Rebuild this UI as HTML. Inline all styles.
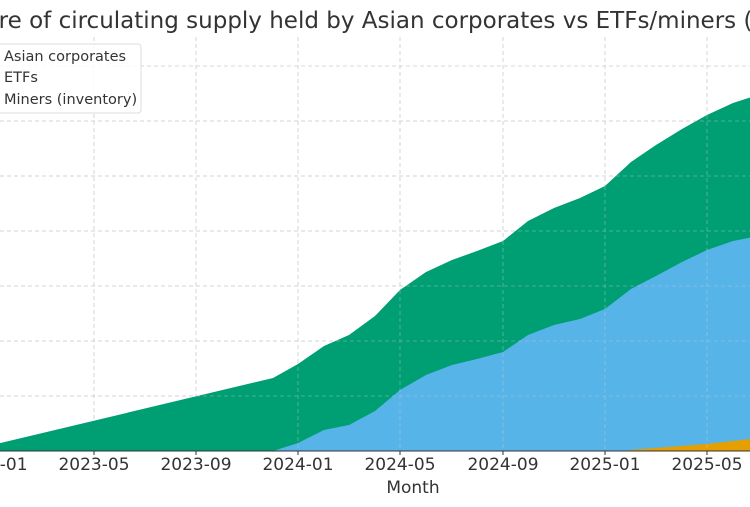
<!DOCTYPE html>
<html><head><meta charset="utf-8"><style>
body{margin:0;background:#fff;}
svg{display:block;font-family:"DejaVu Sans","Liberation Sans",sans-serif;}
</style></head><body>
<svg width="750" height="507" viewBox="0 0 750 507">
<g stroke="#ccc" stroke-dasharray="4,3" stroke-width="0.8">
<line x1="0" y1="66" x2="750" y2="66"/><line x1="0" y1="121" x2="750" y2="121"/><line x1="0" y1="176" x2="750" y2="176"/><line x1="0" y1="231" x2="750" y2="231"/><line x1="0" y1="286" x2="750" y2="286"/><line x1="0" y1="341" x2="750" y2="341"/><line x1="0" y1="396" x2="750" y2="396"/>
<line x1="94" y1="37" x2="94" y2="451"/><line x1="196" y1="37" x2="196" y2="451"/><line x1="298" y1="37" x2="298" y2="451"/><line x1="400" y1="37" x2="400" y2="451"/><line x1="503" y1="37" x2="503" y2="451"/><line x1="605" y1="37" x2="605" y2="451"/><line x1="707" y1="37" x2="707" y2="451"/>
</g>
<polygon fill="#009E73" points="-8,445 273,378 298,364 324,346 349,335 375,316 400,290 426,272 452,260 477,251 503,241 528,221 554,208 580,198 605,186 631,162 656,145 682,129 707,115 733,103 758,95 758,451 -8,451"/>
<polygon fill="#56B4E9" points="273,451 298,443 324,430 349,425 375,411 400,390 426,375 452,365 477,359 503,352 528,335 554,325 580,319 605,309 631,289 656,276 682,262 707,250 733,241 758,236 758,451"/>
<polygon fill="#E69F00" points="620,451 631,450 707,444 758,438 758,451"/>
<g stroke="#ccc" stroke-dasharray="4,3" stroke-width="0.8" opacity="0.5">
<line x1="0" y1="121" x2="750" y2="121"/><line x1="0" y1="176" x2="750" y2="176"/><line x1="0" y1="231" x2="750" y2="231"/><line x1="0" y1="286" x2="750" y2="286"/><line x1="0" y1="341" x2="750" y2="341"/><line x1="0" y1="396" x2="750" y2="396"/>
<line x1="298" y1="360" x2="298" y2="451"/><line x1="400" y1="290" x2="400" y2="451"/><line x1="503" y1="241" x2="503" y2="451"/><line x1="605" y1="186" x2="605" y2="451"/><line x1="707" y1="115" x2="707" y2="451"/>
</g>
<line x1="0" y1="451" x2="750" y2="451" stroke="#333" stroke-width="1"/>
<g stroke="#333"><line x1="94" y1="451" x2="94" y2="455"/><line x1="196" y1="451" x2="196" y2="455"/><line x1="298" y1="451" x2="298" y2="455"/><line x1="400" y1="451" x2="400" y2="455"/><line x1="503" y1="451" x2="503" y2="455"/><line x1="605" y1="451" x2="605" y2="455"/><line x1="707" y1="451" x2="707" y2="455"/></g>
<g font-size="17" fill="#333" text-anchor="middle">
<text x="-8" y="470">2023-01</text><text x="94" y="470">2023-05</text><text x="196" y="470">2023-09</text><text x="298" y="470">2024-01</text><text x="400" y="470">2024-05</text><text x="503" y="470">2024-09</text><text x="605" y="470">2025-01</text><text x="707" y="470">2025-05</text>
<text x="413" y="493">Month</text>
</g>
<text x="-30" y="28" font-size="23" fill="#333">hare of circulating supply held by Asian corporates vs ETFs/miners (in %)</text>
<rect x="-10" y="44" width="151" height="69" rx="3" fill="#fff" fill-opacity="0.85" stroke="#ddd"/>
<g font-size="14.5" fill="#333"><text x="4" y="61">Asian corporates</text><text x="4" y="82">ETFs</text><text x="4" y="104">Miners (inventory)</text></g>
</svg>
</body></html>
